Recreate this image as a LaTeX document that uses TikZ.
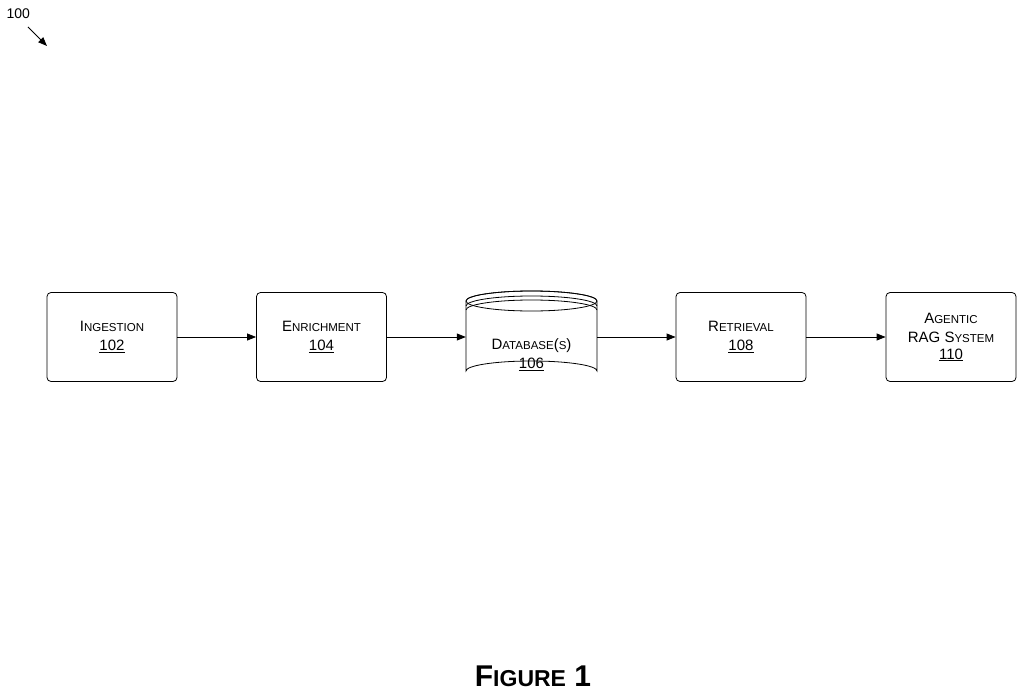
\documentclass[tikz,border=0pt]{standalone}
\usepackage{fontspec}
\setmainfont{Liberation Sans}
\usetikzlibrary{arrows.meta}
\newcommand{\mysc}[2]{{\fontsize{15}{17}\selectfont #1}{\fontsize{11.5}{17}\selectfont #2}}
\begin{document}
\begin{tikzpicture}[x=1pt,y=-1pt,
  box/.style={draw,thick,rounded corners=4pt,minimum width=130pt,minimum height=89pt,align=center,font=\fontsize{15}{19}\selectfont},
  conn/.style={thick,-{Triangle[length=9pt,width=7pt]}}]
\useasboundingbox (0,0) rectangle (1024,695);
\node[anchor=west,font=\fontsize{14}{16}\selectfont] (lbl) at (3,14) {100};
\coordinate (a1) at (28,27);
\coordinate (a2) at (47,46);
\draw[thick,-{Triangle[length=9pt,width=7pt]}] (a1) -- (a2);
\node[box] (ing) at (112,337) {\mysc{I}{NGESTION}\\\underline{102}};
\node[box] (enr) at (321.5,337) {\mysc{E}{NRICHMENT}\\\underline{104}};
\node[box] (ret) at (741,337) {\mysc{R}{ETRIEVAL}\\\underline{108}};
\node[box] (rag) at (951,337) {\mysc{A}{GENTIC}\\\mysc{RAG S}{YSTEM}\\[-2pt]\underline{110}};
% database
\node[minimum width=131pt,minimum height=89pt,inner sep=0] (db) at (531.5,337) {};
\draw[thick] (466,301) arc[start angle=180,end angle=360,x radius=65.5,y radius=10] -- (597,371)
  arc[start angle=0,end angle=-180,x radius=65.5,y radius=10] -- cycle;
\draw[thick] (531.5,301) ellipse[x radius=65.5,y radius=10];
\draw[thick] (466,306) arc[start angle=180,end angle=360,x radius=65.5,y radius=10];
\draw[thick] (466,310) arc[start angle=180,end angle=360,x radius=65.5,y radius=10];
\node[align=center,font=\fontsize{15}{19}\selectfont] (dbt) at (531.5,355) {\mysc{D}{ATABASE}\mysc{(}{S}\mysc{)}{}\\\underline{106}};
\draw[conn] (ing) -- (enr);
\draw[conn] (enr) -- (db.west);
\draw[conn] (db.east) -- (ret);
\draw[conn] (ret) -- (rag);
\node[font=\bfseries] (fig) at (533,676) {\mysc{\fontsize{30}{32}\selectfont F}{\fontsize{23}{32}\selectfont IGURE}\mysc{\fontsize{30}{32}\selectfont\ 1}{}};
\end{tikzpicture}
\end{document}
